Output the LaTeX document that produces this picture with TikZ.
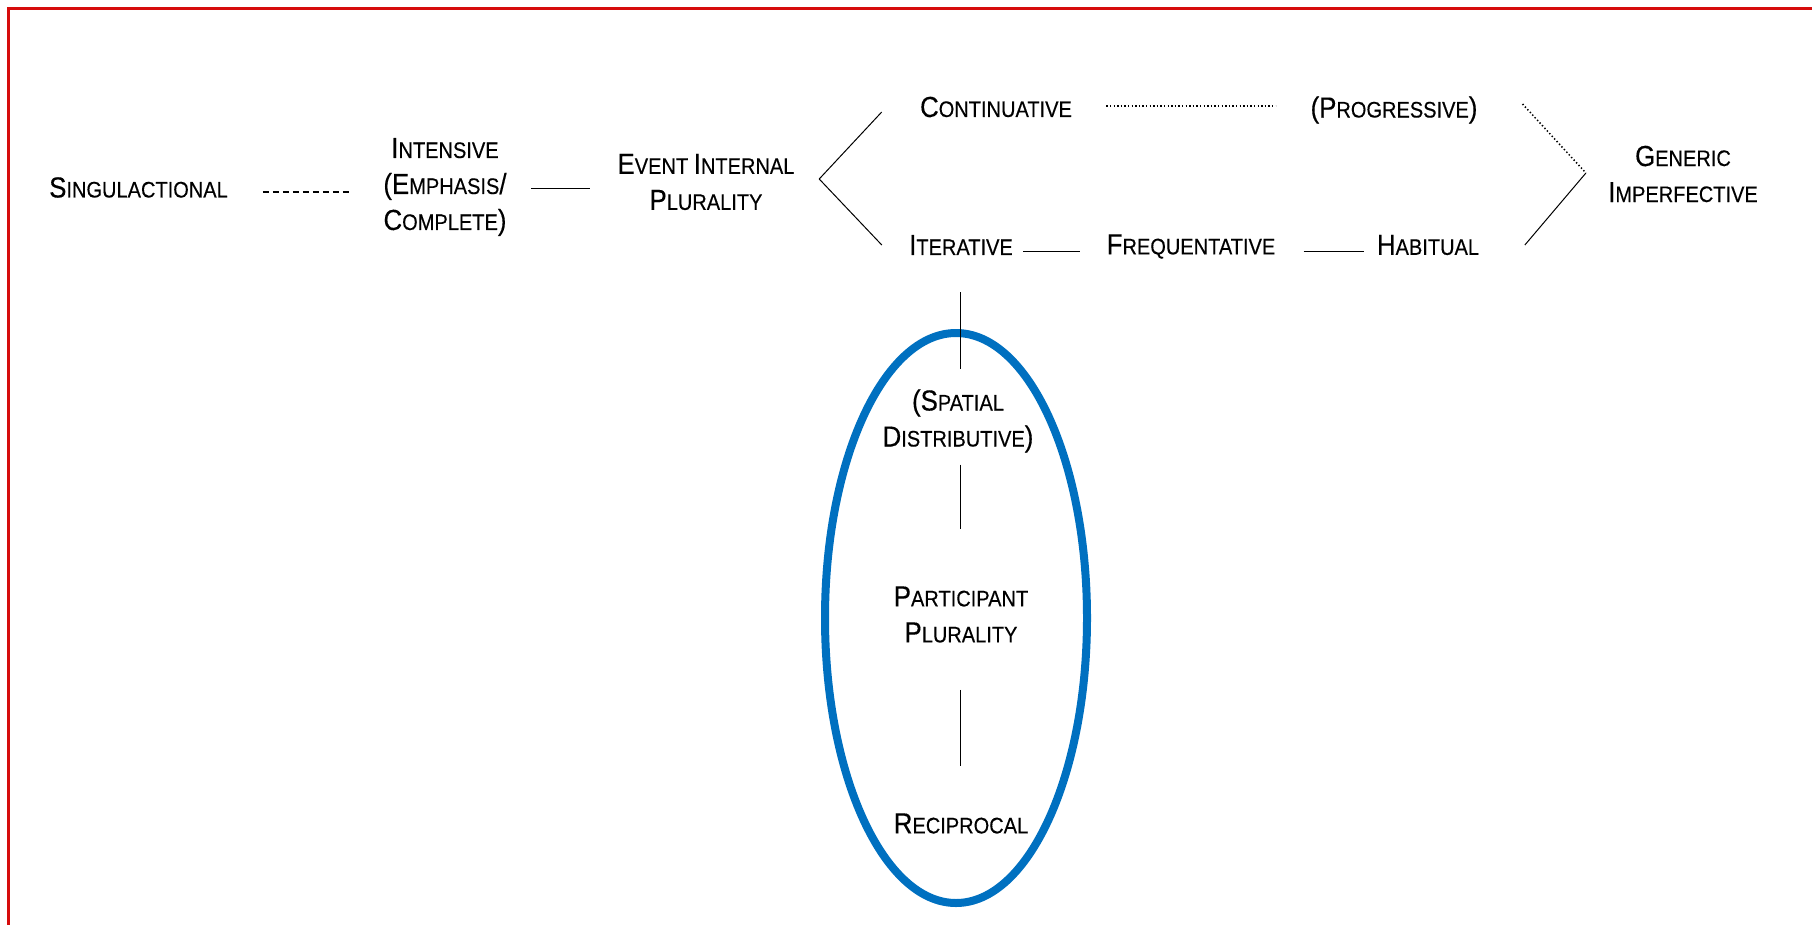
\documentclass[tikz,border=0pt]{standalone}
\usepackage{fontspec}
\setmainfont{Liberation Sans}[FakeStretch=0.89,FakeBold=0.3]
\definecolor{framered}{RGB}{214,12,12}
\definecolor{ovalblue}{RGB}{0,112,192}
% capital initial followed by smaller capitals
\newcommand\smcap[2]{#1{\fontsize{22.5pt}{36pt}\selectfont #2}}

\begin{document}
\begin{tikzpicture}[x=1pt,y=-1pt,
  term/.style={inner sep=0pt, align=center, font=\fontsize{29pt}{36pt}\selectfont},
  link/.style={line width=1pt, black},
  dashlink/.style={line width=2.2pt, black, dash pattern=on 6.5pt off 3.5pt},
  dotlink/.style={line width=1.5pt, black, dash pattern=on 1.4pt off 2.2pt},
]
\useasboundingbox (0,0) rectangle (1812,924);

% outer frame, running off the right and bottom edges
\begin{scope}
  \clip (0,0) rectangle (1812,924);
  \draw[framered, line width=2.6pt] (8.7,8.7) rectangle (1840,950);
\end{scope}

% oval around the participant-related categories
\draw[ovalblue, line width=8pt] (956,618) ellipse [x radius=131, y radius=285];

% categories
\node[term] (sing) at (138.5,187.5) {\smcap{S}{INGULACTIONAL}};
\node[term] (int)  at (445,187) {\smcap{I}{NTENSIVE}\\\smcap{(E}{MPHASIS}/\\\smcap{C}{OMPLETE})};
\node[term] (eip)  at (706,182) {\smcap{E}{VENT }\smcap{I}{NTERNAL}\\\smcap{P}{LURALITY}};
\node[term] (cont) at (996,107) {\smcap{C}{ONTINUATIVE}};
\node[term] (prog) at (1394,110) {\smcap{(P}{ROGRESSIVE})};
\node[term] (gen)  at (1683,174) {\smcap{G}{ENERIC}\\\smcap{I}{MPERFECTIVE}};
\node[term] (iter) at (961,245) {\smcap{I}{TERATIVE}};
\node[term] (freq) at (1191,246.5) {\smcap{F}{REQUENTATIVE}};
\node[term] (hab)  at (1428,245) {\smcap{H}{ABITUAL}};
\node[term] (spat) at (958,421) {\smcap{(S}{PATIAL}\\\smcap{D}{ISTRIBUTIVE})};
\node[term] (part) at (961,614.5) {\smcap{P}{ARTICIPANT}\\\smcap{P}{LURALITY}};
\node[term] (recip) at (961,823.5) {\smcap{R}{ECIPROCAL}};

% left chain
\draw[dashlink] ([shift={(35,4.5)}]sing.east) -- ([shift={(-30.7,5)}]int.west);
\draw[link] ([shift={(24.7,1)}]int.east) -- ([shift={(-27.6,6)}]eip.west);

% fork into continuative and iterative
\coordinate (fork) at ([shift={(24.6,-3)}]eip.east);
\draw[link] ([shift={(-38.2,5)}]cont.west) -- (fork) -- ([shift={(-27.2,0)}]iter.west);

% upper row
\draw[dotlink] ([shift={(34.2,-1)}]cont.east) -- ([shift={(-34.9,-4)}]prog.west);

% join into generic imperfective
\coordinate (join) at ([shift={(-22.1,-1)}]gen.west);
\draw[dotlink] ([shift={(44.9,-6)}]prog.east) -- (join);
\draw[link] (join) -- ([shift={(45.6,0)}]hab.east);

% lower row
\draw[link] ([shift={(10.2,6)}]iter.east) -- ([shift={(-26.2,4.5)}]freq.west);
\draw[link] ([shift={(28.2,4.5)}]freq.east) -- ([shift={(-12.6,6)}]hab.west);

% vertical chain
\draw[link] ([shift={(-1,37.3)}]iter.south) -- ([shift={(2,-20)}]spat.north);
\draw[link] ([shift={(2,12)}]spat.south) -- ([shift={(-1,-57)}]part.north);
\draw[link] ([shift={(-1,47)}]part.south) -- ([shift={(-1,-46.8)}]recip.north);

\end{tikzpicture}
\end{document}
